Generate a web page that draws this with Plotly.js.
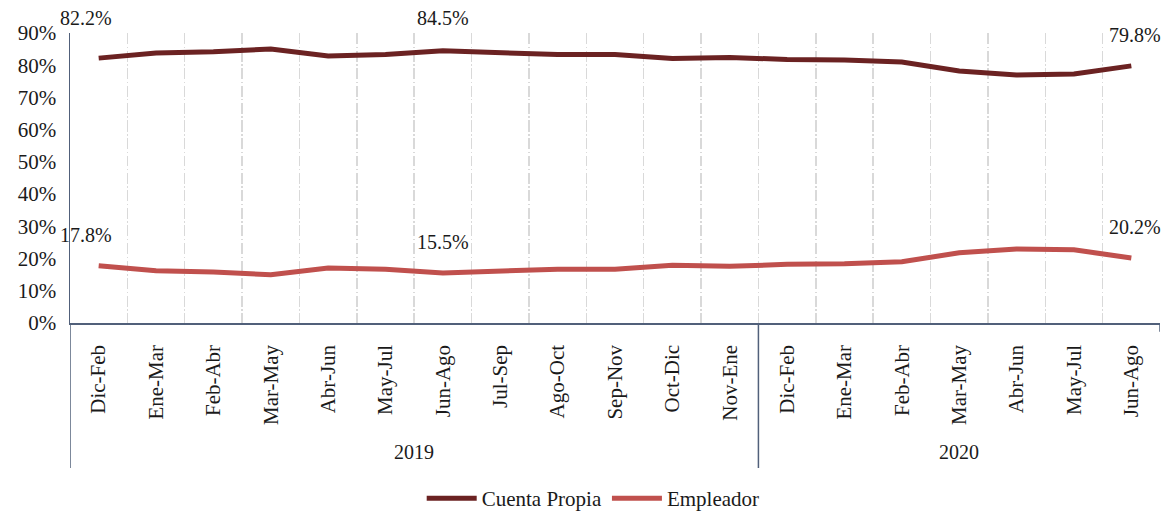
<!DOCTYPE html>
<html>
<head>
<meta charset="utf-8">
<script src="https://cdn.plot.ly/plotly-3.0.1.min.js"></script>
<style>html,body{margin:0;padding:0;background:#fff;}#chart{width:1162px;height:514px;}</style>
</head>
<body>
<div id="chart"></div>
<script>
// ---- data ----
const years = ["2019","2019","2019","2019","2019","2019","2019","2019","2019","2019","2019","2019",
               "2020","2020","2020","2020","2020","2020","2020"];
const months = ["Dic-Feb","Ene-Mar","Feb-Abr","Mar-May","Abr-Jun","May-Jul","Jun-Ago","Jul-Sep",
                "Ago-Oct","Sep-Nov","Oct-Dic","Nov-Ene",
                "Dic-Feb","Ene-Mar","Feb-Abr","Mar-May","Abr-Jun","May-Jul","Jun-Ago"];
const cuentaPropia = [82.2, 83.8, 84.2, 85.0, 82.9, 83.3, 84.5, 83.9, 83.3, 83.3, 82.1, 82.4,
                      81.8, 81.6, 81.0, 78.2, 77.0, 77.3, 79.8];
const empleador = [17.8, 16.2, 15.8, 15.0, 17.1, 16.7, 15.5, 16.1, 16.7, 16.7, 17.9, 17.6,
                   18.2, 18.4, 19.0, 21.8, 23.0, 22.7, 20.2];
const yearGroups = ["2019", "2020"];
const yTicks = [0, 10, 20, 30, 40, 50, 60, 70, 80, 90];
// labelled points (index into series)
const labelledCP = [0, 6, 18];
const labelledEmp = [0, 6, 18];

// ---- build ----
const keys = months.map((m, i) => years[i] + " " + m);
const FONT = "Liberation Serif";
const TXT = "#1a1a1a";
const AXC = "#51607a";

const traces = [
  {x: keys, y: cuentaPropia, type: "scatter", mode: "lines", name: "Cuenta Propia",
   line: {color: "#6b2222", width: 5}, hoverinfo: "skip"},
  {x: keys, y: empleador, type: "scatter", mode: "lines", name: "Empleador",
   line: {color: "#c0504d", width: 5}, hoverinfo: "skip"}
];

const annotations = [];
const cpShift = [[-13, 40], [0, 33], [4, 31]];
labelledCP.forEach((idx, k) => {
  annotations.push({x: idx, y: cuentaPropia[idx], xref: "x", yref: "y",
    text: cuentaPropia[idx].toFixed(1) + "%", showarrow: false,
    xshift: cpShift[k][0], yshift: cpShift[k][1], yanchor: "middle",
    font: {family: FONT, size: 20, color: TXT}});
});
const empShift = [[-13, 31], [0, 31], [4, 31]];
labelledEmp.forEach((idx, k) => {
  annotations.push({x: idx, y: empleador[idx], xref: "x", yref: "y",
    text: empleador[idx].toFixed(1) + "%", showarrow: false,
    xshift: empShift[k][0], yshift: empShift[k][1], yanchor: "middle",
    font: {family: FONT, size: 20, color: TXT}});
});
// year group labels, centred under their months
yearGroups.forEach(yr => {
  const idxs = years.map((y, i) => y === yr ? i : -1).filter(i => i >= 0);
  const mid = (idxs[0] + idxs[idxs.length - 1]) / 2;
  annotations.push({x: mid, y: -0.445, xref: "x", yref: "paper", text: yr,
    showarrow: false, yanchor: "middle", font: {family: FONT, size: 20, color: TXT}});
});

// group dividers
const shapes = [];
yearGroups.forEach(yr => {
  const first = years.indexOf(yr);
  shapes.push({type: "line", xref: "x", yref: "paper", x0: first - 0.5, x1: first - 0.5,
    y0: 0, y1: -0.5, line: {color: AXC, width: 1.5}});
});
shapes.push({type: "line", xref: "x", yref: "paper", x0: years.length - 0.5, x1: years.length - 0.5,
  y0: 0, y1: -0.03, line: {color: AXC, width: 1.5}});

const layout = {
  width: 1162, height: 514,
  margin: {l: 70, r: 2, t: 33, b: 191, autoexpand: false},
  font: {family: FONT, size: 20, color: TXT},
  paper_bgcolor: "#fff", plot_bgcolor: "#fff",
  showlegend: true,
  legend: {orientation: "h", x: 0.48, xanchor: "center", yref: "container", y: 0.03, yanchor: "middle",
           font: {family: FONT, size: 21, color: TXT}, itemwidth: 50},
  xaxis: {
    type: "category", range: [-0.5, months.length - 0.5], automargin: false,
    tickmode: "array", tickvals: keys, ticktext: months, tickangle: -90,
    tickson: "boundaries", ticks: "", ticklabelstandoff: 12,
    tickfont: {family: FONT, size: 21, color: TXT},
    showgrid: true, gridcolor: "#d9d9d9", gridwidth: 1.5, griddash: "11px,2.5px,1.5px,2.5px",
    showline: true, linecolor: AXC, linewidth: 1.5, zeroline: false, fixedrange: true
  },
  yaxis: {
    range: [0, 90], tickvals: yTicks, ticktext: yTicks.map(v => v + "%"),
    tickmode: "array", showgrid: false, zeroline: false, automargin: false,
    showline: true, linecolor: AXC, linewidth: 1.5, ticks: "", ticklabelstandoff: 8,
    tickfont: {family: FONT, size: 21, color: TXT}, fixedrange: true
  },
  annotations: annotations,
  shapes: shapes
};

Plotly.newPlot("chart", traces, layout, {displayModeBar: false, staticPlot: true});
</script>
</body>
</html>
